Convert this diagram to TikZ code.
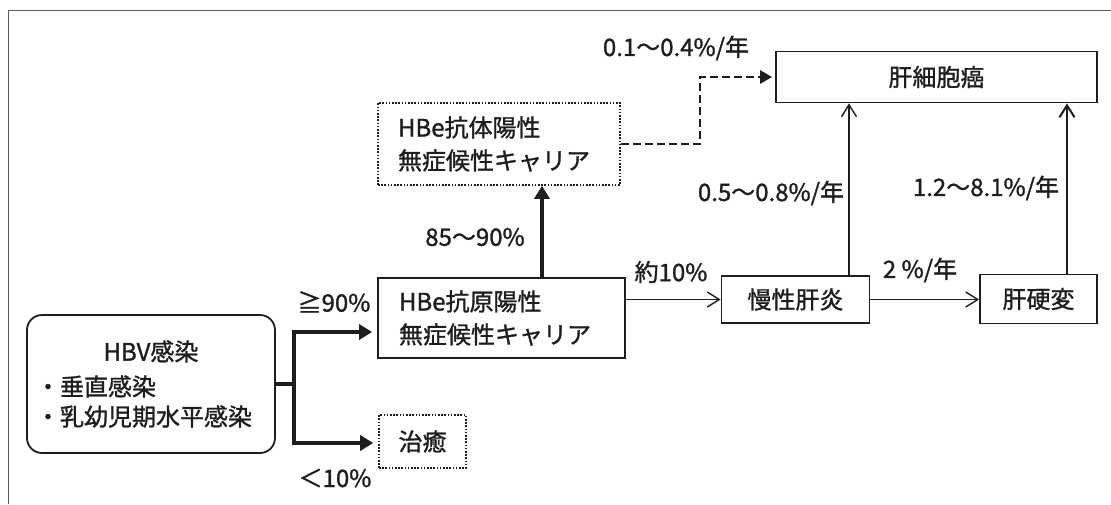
\documentclass[tikz,border=0pt]{standalone}
\usepackage{fontspec}
\setmainfont{Noto Sans CJK JP}[FakeBold=1.2]
\usetikzlibrary{arrows.meta}
\definecolor{ink}{HTML}{1E1E1E}
\definecolor{frame}{HTML}{5A5A5A}
\begin{document}
\begin{tikzpicture}[x=1pt,y=-1pt,
  every node/.style={font=\fontsize{24}{33}\selectfont, text=ink},
  box/.style={draw=ink, line width=1.8pt, inner sep=0pt, minimum width=#1},
  dotbox/.style={draw=ink, line width=1.6pt, dash pattern=on 1.6pt off 1.6pt, inner sep=0pt, minimum width=#1},
  lbl/.style={inner sep=0pt},
  thinarr/.style={draw=ink, line width=1.4pt, -{Straight Barb[length=12pt,width=15pt,line width=1.4pt]}},
  thickarr/.style={draw=ink, line width=4pt, -{Triangle[length=13pt,width=15pt]}},
  dasharr/.style={draw=ink, line width=2.6pt, dash pattern=on 8pt off 4pt, -{Triangle[length=12pt,width=13pt]}},
  medarr/.style={draw=ink, line width=2.8pt, -{Straight Barb[length=12pt,width=15pt,line width=2pt]}}
]
\useasboundingbox (0,0) rectangle (1111,504);
\fill[white] (0,0) rectangle (1111,504);
\draw[frame, line width=1.3pt] (8.5,504) -- (8.5,10.5) -- (1111,10.5);

% nodes
\node[box=248pt, minimum height=138pt, rounded corners=15pt, align=left, text width=230pt] (hbv) at (151,384)
  {\makebox[230pt]{HBV感染}\\[2pt]・垂直感染\\[-3pt]・乳幼児期水平感染};
\node[box=247pt, minimum height=80pt, align=left, text width=205pt] (hbeag) at (501.5,318)
  {HBe抗原陽性\\無症候性キャリア};
\node[dotbox=242pt, minimum height=82pt, align=left, text width=202pt] (hbeab) at (499,144)
  {HBe抗体陽性\\無症候性キャリア};
\node[dotbox=87pt, minimum height=53pt] (cure) at (422.5,441.5) {治癒};
\node[box=321pt, minimum height=51pt] (hcc) at (936.5,77) {肝細胞癌};
\node[box=148pt, minimum height=47pt] (chr) at (795.5,299.5) {慢性肝炎};
\node[box=117pt, minimum height=49pt] (cir) at (1038.5,299) {肝硬変};

% helper coordinates
\coordinate (fk) at (294,384);
\coordinate (fa) at (294,332);
\coordinate (fb) at (294,443);
\coordinate (v1) at (542,0);
\coordinate (v2) at (849,0);
\coordinate (v3) at (1067,0);
\coordinate (dk) at (700,0);

% connectors
\draw[ink, line width=4pt] (hbv.east |- fk) -- (fk);
\draw[thickarr] (fk) -- (fa) -- ([xshift=-5pt]hbeag.west |- fa);
\draw[thickarr] (fk) -- (fb) -- ([xshift=-5pt]cure.west |- fb);
\draw[thickarr] (hbeag.north -| v1) -- (hbeab.south -| v1);
\draw[dasharr] (hbeab.east) -- (hbeab.east -| dk) -- (hcc.west -| dk) -- ([xshift=-3pt]hcc.west);
\draw[thinarr] (hbeag.east |- chr.west) -- (chr.west);
\draw[thinarr] (chr.east) -- (chr.east -| cir.west);
\draw[thinarr] (chr.north -| v2) -- (hcc.south -| v2);
\draw[medarr] (cir.north -| v3) -- (hcc.south -| v3);

% labels
\node[lbl] (l1) at (676,48) {0.1～0.4\%/年};
\node[lbl] (l2) at (475,237) {85～90\%};
\node[lbl] (l3) at (671,272) {約10\%};
\node[lbl] (l4) at (920,270) {2 \%/年};
\node[lbl] (l5) at (771,193) {0.5～0.8\%/年};
\node[lbl] (l6) at (986,188) {1.2～8.1\%/年};
\node[lbl] (l7) at (334,302) {≧90\%};
\node[lbl] (l8) at (335,478) {＜10\%};
\end{tikzpicture}
\end{document}
